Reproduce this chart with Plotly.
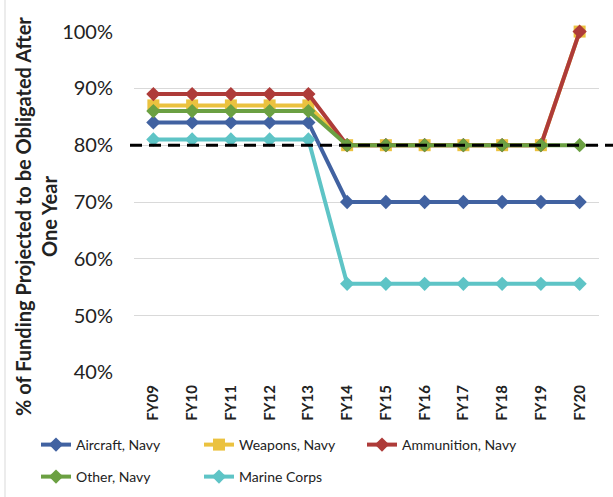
import plotly.graph_objects as go

categories = ["FY09", "FY10", "FY11", "FY12", "FY13", "FY14", "FY15", "FY16", "FY17", "FY18", "FY19", "FY20"]
aircraft = [0.84, 0.84, 0.84, 0.84, 0.84, 0.70, 0.70, 0.70, 0.70, 0.70, 0.70, 0.70]
weapons = [0.87, 0.87, 0.87, 0.87, 0.87, 0.80, 0.80, 0.80, 0.80, 0.80, 0.80, 1.00]
ammunition = [0.89, 0.89, 0.89, 0.89, 0.89, 0.80, 0.80, 0.80, 0.80, 0.80, 0.80, 1.00]
other = [0.86, 0.86, 0.86, 0.86, 0.86, 0.80, 0.80, 0.80, 0.80, 0.80, 0.80, 0.80]
marine = [0.81, 0.81, 0.81, 0.81, 0.81, 0.556, 0.556, 0.556, 0.556, 0.556, 0.556, 0.556]
target = 0.80
y_ticks = [0.4, 0.5, 0.6, 0.7, 0.8, 0.9, 1.0]
y_title = "% of Funding Projected to be Obligated After<br>One Year"

series = [
    ("Aircraft, Navy", aircraft, "#4162A1", "diamond", 11),
    ("Weapons, Navy", weapons, "#EBC23F", "square", 12),
    ("Ammunition, Navy", ammunition, "#AE3B39", "diamond", 11),
    ("Other, Navy", other, "#6BA042", "diamond", 11),
    ("Marine Corps", marine, "#5EC4C6", "diamond", 11),
]
# legend slot positions (pixel x of item start, pixel y of row centre)
legend_pos = [(36, 445), (199, 445), (362, 445), (36, 477), (199, 477)]

W, H = 613, 497
ml, mr, mt, mb = 134, 14, 31, 124
pw, ph = W - ml - mr, H - mt - mb

fig = go.Figure()
legend_layout = {}
for i, (name, vals, color, sym, size) in enumerate(series):
    key = "legend" if i == 0 else f"legend{i + 1}"
    fig.add_trace(go.Scatter(
        x=categories, y=vals, name=name, mode="lines+markers",
        line=dict(color=color, width=4),
        marker=dict(symbol=sym, size=size, color=color),
        cliponaxis=False, legend=key,
    ))
    lx, ly = legend_pos[i]
    legend_layout[key] = dict(orientation="h", xref="container", yref="container", xanchor="left",
                              yanchor="middle", x=lx / W, y=1 - ly / H,
                              font=dict(size=14, color="#222222"), itemwidth=30,
                              bgcolor="rgba(0,0,0,0)")


def px_x(p):
    return (p - ml) / pw


def px_y(p):
    return (H - mb - p) / ph


fig.add_shape(type="line", xref="paper", yref="y", x0=px_x(130), x1=px_x(613), y0=target, y1=target,
              line=dict(color="black", width=3, dash="12px,7px"), layer="above")
fig.add_shape(type="line", xref="paper", yref="paper", x0=px_x(5), x1=px_x(5), y0=px_y(0), y1=px_y(497),
              line=dict(color="#D9D9D9", width=1))
fig.add_annotation(text=y_title, xref="paper", yref="paper", x=px_x(36), y=px_y(217),
                   xanchor="center", yanchor="middle", textangle=-90, showarrow=False,
                   font=dict(size=20, weight="bold", color="#222222"))

fig.update_layout(
    width=W, height=H,
    margin=dict(l=ml, r=mr, t=mt, b=mb, autoexpand=False),
    plot_bgcolor="white", paper_bgcolor="white",
    font=dict(family="Lato", color="#222222"),
    showlegend=True,
    **legend_layout,
)
fig.update_xaxes(
    type="category", range=[-0.5, 11.5], tickangle=-90, showgrid=False, showline=False,
    tickfont=dict(size=15, family="Lato", color="#222222", weight="bold"), ticks="",
    ticklabelstandoff=8,
)
fig.update_yaxes(
    range=[0.399, 1.001], tickvals=y_ticks, tickformat=".0%", showgrid=True, gridcolor="#D9D9D9",
    gridwidth=1.3, zeroline=False, showline=False, tickfont=dict(size=20, color="#222222"),
    ticklabelstandoff=20,
)

fig.write_html("out.html")
